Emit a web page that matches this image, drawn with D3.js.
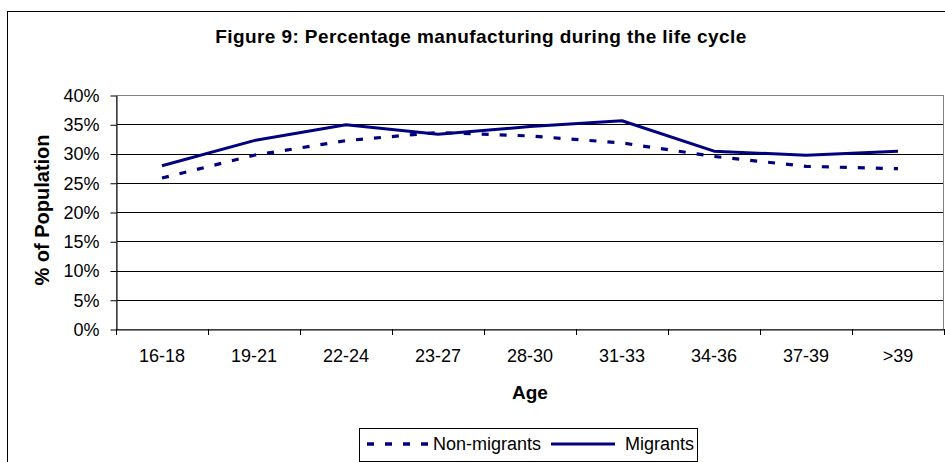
<!DOCTYPE html>
<html>
<head>
<meta charset="utf-8">
<script src="https://cdn.jsdelivr.net/npm/d3@7"></script>
<style>
  body { margin: 0; background: #fff; }
  text { font-family: "Liberation Sans", Arial, sans-serif; }
</style>
</head>
<body>
<div id="chart"></div>
<script>
// 1: DATA
const ages = ["16-18", "19-21", "22-24", "23-27", "28-30", "31-33", "34-36", "37-39", ">39"];
const nonMigrants = [25.8, 29.7, 32.2, 33.6, 33.0, 31.8, 29.5, 27.8, 27.4];
const migrants = [27.9, 32.2, 34.9, 33.3, 34.6, 35.6, 30.4, 29.7, 30.4];
const yTicks = [0, 5, 10, 15, 20, 25, 30, 35, 40];
const seriesNames = ["Non-migrants", "Migrants"];

// 2: LAYOUT
const W = 945, H = 462;
const margin = { top: 95, left: 116 };
const width = 828;
const height = 234;
const navy = "#000080";

const svg = d3.select("#chart")
    .append("svg")
    .attr("width", W)
    .attr("height", H);

// chart area border (runs off the right and bottom edges)
svg.append("rect")
    .attr("x", 7.5).attr("y", 11.5)
    .attr("width", W).attr("height", H)
    .attr("fill", "none")
    .attr("stroke", "#000");

const g = svg.append("g")
    .attr("transform", `translate(${margin.left},${margin.top})`);

// 3: SCALES
const x = d3.scaleBand().domain(ages).range([0, width]);
const y = d3.scaleLinear().domain([0, 40]).range([height, 0]);

// gridlines
g.append("g")
    .selectAll("line")
    .data(yTicks.filter(d => d > 0 && d < 40))
    .join("line")
    .attr("x1", 0).attr("x2", width)
    .attr("y1", d => Math.round(y(d)) + 0.5)
    .attr("y2", d => Math.round(y(d)) + 0.5)
    .attr("stroke", "#000");

// plot area border
g.append("rect")
    .attr("x", 0.5).attr("y", 0.5)
    .attr("width", width - 1).attr("height", height)
    .attr("fill", "none")
    .attr("stroke", "#808080");

// Y Axis
const yAxis = g.append("g")
    .attr("transform", "translate(0.5,0.5)")
    .call(d3.axisLeft(y).tickValues(yTicks).tickFormat(d => d + "%")
        .tickSize(6).tickSizeOuter(0).tickPadding(11));
yAxis.selectAll("line, path").attr("stroke", "#000");
yAxis.selectAll("text").style("font-size", "18px").attr("fill", "#000");

// X Axis (labels centred in bands, ticks on band edges)
const xAxis = g.append("g")
    .attr("transform", `translate(0,${height + 0.5})`)
    .call(d3.axisBottom(x).tickSize(0).tickPadding(20));
xAxis.select(".domain").attr("stroke", "#000");
xAxis.selectAll("text").style("font-size", "18px").attr("fill", "#000");

g.append("g")
    .selectAll("line")
    .data(ages.map(a => x(a)).concat([width]))
    .join("line")
    .attr("x1", d => Math.round(d) + 0.5).attr("x2", d => Math.round(d) + 0.5)
    .attr("y1", height).attr("y2", height + 6)
    .attr("stroke", "#000");

// 4: LINES
const line = d3.line()
    .x((d, i) => x(ages[i]) + x.bandwidth() / 2)
    .y(d => y(d));

g.append("path")
    .datum(nonMigrants)
    .attr("fill", "none")
    .attr("stroke", navy)
    .attr("stroke-width", 3.2)
    .attr("stroke-dasharray", "7,11")
    .attr("d", line);

g.append("path")
    .datum(migrants)
    .attr("fill", "none")
    .attr("stroke", navy)
    .attr("stroke-width", 3)
    .attr("stroke-linejoin", "round")
    .attr("d", line);

// 5: TITLES
svg.append("text")
    .attr("x", 481).attr("y", 43)
    .attr("text-anchor", "middle")
    .style("font-size", "19px")
    .style("font-weight", "bold")
    .style("letter-spacing", "0.4px")
    .text("Figure 9: Percentage manufacturing during the life cycle");

svg.append("text")
    .attr("x", margin.left + width / 2).attr("y", 399)
    .attr("text-anchor", "middle")
    .style("font-size", "19px")
    .style("font-weight", "bold")
    .text("Age");

svg.append("text")
    .attr("transform", `translate(49,${margin.top + height / 2 - 2}) rotate(-90)`)
    .attr("text-anchor", "middle")
    .style("font-size", "20px")
    .style("font-weight", "bold")
    .text("% of Population");

// 6: LEGEND
const legend = svg.append("g").attr("transform", "translate(359,428)");
legend.append("rect")
    .attr("x", 0.5).attr("y", 0.5)
    .attr("width", 338).attr("height", 33)
    .attr("fill", "#fff")
    .attr("stroke", "#000");

legend.append("line")
    .attr("x1", 8).attr("x2", 70).attr("y1", 16).attr("y2", 16)
    .attr("stroke", navy).attr("stroke-width", 3.5)
    .attr("stroke-dasharray", "7,11");
legend.append("text")
    .attr("x", 74).attr("y", 22)
    .style("font-size", "18px")
    .text(seriesNames[0]);

legend.append("line")
    .attr("x1", 192).attr("x2", 256).attr("y1", 16).attr("y2", 16)
    .attr("stroke", navy).attr("stroke-width", 3);
legend.append("text")
    .attr("x", 266).attr("y", 22)
    .style("font-size", "18px")
    .text(seriesNames[1]);
</script>
</body>
</html>
